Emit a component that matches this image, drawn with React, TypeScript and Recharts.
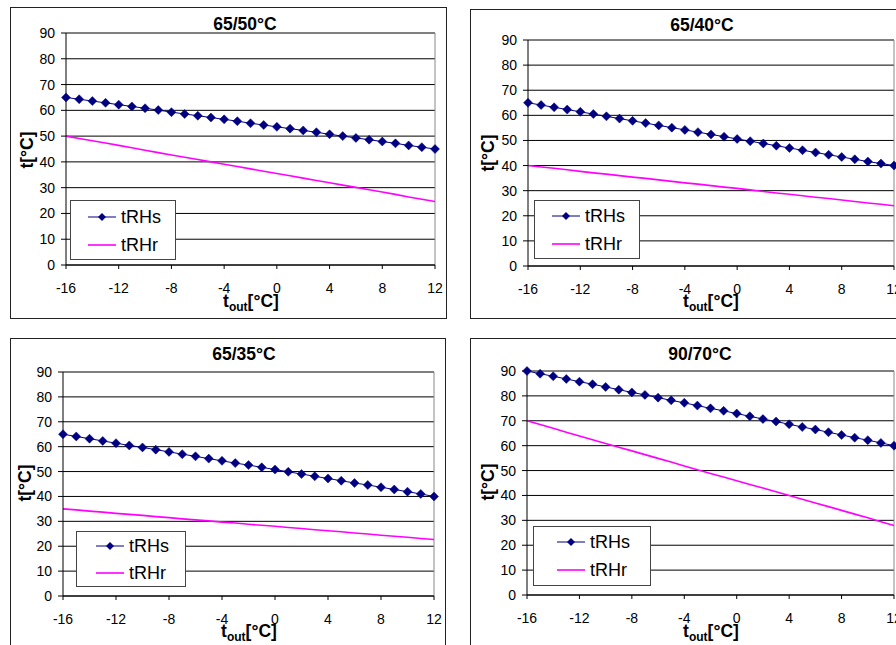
import React from 'react';
import { LineChart, Line, XAxis, YAxis, CartesianGrid, ReferenceLine } from 'recharts';

const tOut = [-16, -15, -14, -13, -12, -11, -10, -9, -8, -7, -6, -5, -4, -3, -2, -1, 0, 1, 2, 3, 4, 5, 6, 7, 8, 9, 10, 11, 12];
const xTicks = [-16, -12, -8, -4, 0, 4, 8, 12];
const yTicks = [0, 10, 20, 30, 40, 50, 60, 70, 80, 90];

const titles = ['65/50°C', '65/40°C', '65/35°C', '90/70°C'];

const tRHs6550 = [65.0, 64.3, 63.6, 62.9, 62.2, 61.5, 60.8, 60.1, 59.3, 58.6, 57.9, 57.2, 56.5, 55.8, 55.0, 54.3, 53.6, 52.9, 52.2, 51.5, 50.7, 50.0, 49.3, 48.6, 47.9, 47.2, 46.4, 45.7, 45.0];
const tRHr6550 = [50.0, 49.1, 48.2, 47.3, 46.4, 45.5, 44.5, 43.6, 42.7, 41.8, 40.9, 40.0, 39.1, 38.2, 37.3, 36.4, 35.5, 34.6, 33.7, 32.8, 31.9, 31.0, 30.1, 29.2, 28.3, 27.4, 26.4, 25.5, 24.6];

const tRHs6540 = [65.0, 64.1, 63.2, 62.3, 61.4, 60.5, 59.6, 58.7, 57.8, 56.9, 56.0, 55.1, 54.2, 53.3, 52.4, 51.5, 50.6, 49.7, 48.8, 47.9, 47.0, 46.1, 45.2, 44.3, 43.4, 42.5, 41.6, 40.8, 40.0];
const tRHr6540 = [40.0, 39.4, 38.9, 38.3, 37.7, 37.1, 36.6, 36.0, 35.4, 34.9, 34.3, 33.7, 33.1, 32.6, 32.0, 31.4, 30.9, 30.3, 29.7, 29.1, 28.6, 28.0, 27.4, 26.9, 26.3, 25.7, 25.1, 24.6, 24.0];

const tRHs6535 = [65.0, 64.1, 63.2, 62.3, 61.4, 60.5, 59.7, 58.8, 57.9, 57.0, 56.1, 55.2, 54.3, 53.4, 52.6, 51.7, 50.8, 49.9, 49.0, 48.1, 47.2, 46.3, 45.4, 44.6, 43.7, 42.8, 41.9, 41.0, 40.0];
const tRHr6535 = [35.0, 34.6, 34.1, 33.7, 33.2, 32.8, 32.4, 31.9, 31.5, 31.0, 30.6, 30.2, 29.7, 29.3, 28.8, 28.4, 28.0, 27.5, 27.1, 26.6, 26.2, 25.8, 25.3, 24.9, 24.4, 24.0, 23.6, 23.1, 22.7];

const tRHs9070 = [90.0, 88.9, 87.9, 86.8, 85.7, 84.7, 83.6, 82.5, 81.4, 80.4, 79.3, 78.2, 77.2, 76.1, 75.0, 74.0, 72.9, 71.8, 70.7, 69.7, 68.6, 67.5, 66.5, 65.4, 64.3, 63.2, 62.2, 61.1, 60.0];
const tRHr9070 = [70.0, 68.5, 67.0, 65.4, 63.9, 62.4, 60.9, 59.4, 57.9, 56.4, 54.9, 53.4, 51.8, 50.3, 48.8, 47.4, 45.9, 44.4, 43.0, 41.5, 40.0, 38.5, 37.0, 35.5, 34.0, 32.5, 31.0, 29.4, 27.9];

const FONT = '"Liberation Sans", Arial, sans-serif';
const NAVY = '#000080';
const MAGENTA = '#FF00FF';

type Box = { x: number; y: number; w: number; h: number };
type Plot = { l: number; t: number; r: number; b: number };
type Pt = { x: number; y: number };
type Leg = { x: number; y: number; w: number; h: number; iconX: number; textX: number; row1: number; row2: number };

const Diamond = (props: any) => {
  const { cx, cy, index } = props;
  if (cx == null || cy == null) return <g key={index} />;
  const s = 4.5;
  return (
    <path
      key={index}
      d={`M${cx},${cy - s}L${cx + s},${cy}L${cx},${cy + s}L${cx - s},${cy}Z`}
      fill={NAVY}
      stroke={NAVY}
      strokeWidth={0.5}
    />
  );
};

const Y_AXIS_W = 40;
const X_AXIS_H = 30;

function Panel(props: {
  title: string;
  s: number[];
  r: number[];
  box: Box;
  plot: Plot;
  titlePos: Pt;
  yLabelPos: Pt;
  xLabelPos: Pt;
  legend: Leg;
}) {
  const { title, s, r, box, plot, titlePos, yLabelPos, xLabelPos, legend } = props;
  const data = tOut.map((t, i) => ({ t, tRHs: s[i], tRHr: r[i] }));
  const margin = {
    top: plot.t - box.y,
    left: plot.l - box.x - Y_AXIS_W,
    right: box.x + box.w - plot.r,
    bottom: box.y + box.h - plot.b - X_AXIS_H,
  };
  return (
    <>
      <div
        style={{
          position: 'absolute',
          left: box.x,
          top: box.y,
          width: box.w,
          height: box.h,
          border: '1px solid #222',
          boxSizing: 'border-box',
        }}
      />
      <div style={{ position: 'absolute', left: box.x, top: box.y }}>
        <LineChart width={box.w} height={box.h} data={data} margin={margin}>
          <CartesianGrid vertical={false} stroke="#000" strokeWidth={1} />
          <XAxis
            dataKey="t"
            type="number"
            domain={[-16, 12]}
            ticks={xTicks}
            interval={0}
            height={X_AXIS_H}
            stroke="#000"
            tickSize={4}
            tickMargin={14}
            tick={{ fontSize: 14, fill: '#000', fontFamily: FONT }}
          />
          <YAxis
            type="number"
            domain={[0, 90]}
            ticks={yTicks}
            interval={0}
            width={Y_AXIS_W}
            stroke="#000"
            tickSize={5}
            tickMargin={6}
            tick={{ fontSize: 14, fill: '#000', fontFamily: FONT }}
          />
          <ReferenceLine x={12} stroke="#888" strokeWidth={1} />
          <Line
            dataKey="tRHr"
            stroke={MAGENTA}
            strokeWidth={1.6}
            dot={false}
            activeDot={false}
            isAnimationActive={false}
          />
          <Line
            dataKey="tRHs"
            stroke={NAVY}
            strokeWidth={1}
            dot={Diamond}
            activeDot={false}
            isAnimationActive={false}
          />
        </LineChart>
      </div>
      <div
        style={{
          position: 'absolute',
          left: titlePos.x,
          top: titlePos.y,
          transform: 'translate(-50%, -50%)',
          fontFamily: FONT,
          fontWeight: 'bold',
          fontSize: 17.5,
          whiteSpace: 'nowrap',
        }}
      >
        {title}
      </div>
      <div
        style={{
          position: 'absolute',
          left: yLabelPos.x,
          top: yLabelPos.y,
          transform: 'translate(-50%, -50%) rotate(-90deg)',
          fontFamily: FONT,
          fontWeight: 'bold',
          fontSize: 17.5,
          whiteSpace: 'nowrap',
        }}
      >
        t[°C]
      </div>
      <div
        style={{
          position: 'absolute',
          left: xLabelPos.x,
          top: xLabelPos.y,
          transform: 'translate(-50%, -50%)',
          fontFamily: FONT,
          fontWeight: 'bold',
          fontSize: 17.5,
          whiteSpace: 'nowrap',
          lineHeight: '18px',
        }}
      >
        t<span style={{ fontSize: 12, position: 'relative', top: 4 }}>out</span>[°C]
      </div>
      <div
        style={{
          position: 'absolute',
          left: legend.x,
          top: legend.y,
          width: legend.w,
          height: legend.h,
          border: '1px solid #444',
          boxSizing: 'border-box',
          background: '#fff',
          fontFamily: FONT,
          fontSize: 18,
        }}
      >
        <svg
          style={{ position: 'absolute', left: legend.iconX, top: legend.row1 - 6 }}
          width={28}
          height={12}
        >
          <line x1={0} y1={6} x2={28} y2={6} stroke={NAVY} strokeWidth={1} />
          <path d="M14,2L18,6L14,10L10,6Z" fill={NAVY} />
        </svg>
        <div style={{ position: 'absolute', left: legend.textX, top: legend.row1, transform: 'translateY(-50%)', lineHeight: '18px' }}>
          tRHs
        </div>
        <svg
          style={{ position: 'absolute', left: legend.iconX, top: legend.row2 - 6 }}
          width={28}
          height={12}
        >
          <line x1={0} y1={6} x2={28} y2={6} stroke={MAGENTA} strokeWidth={1.6} />
        </svg>
        <div style={{ position: 'absolute', left: legend.textX, top: legend.row2, transform: 'translateY(-50%)', lineHeight: '18px' }}>
          tRHr
        </div>
      </div>
    </>
  );
}

export default function App() {
  return (
    <div
      style={{
        position: 'absolute',
        left: 0,
        top: 0,
        width: 896,
        height: 645,
        overflow: 'hidden',
        background: '#fff',
      }}
    >
      <Panel
        title={titles[0]}
        s={tRHs6550}
        r={tRHr6550}
        box={{ x: 10, y: 7, w: 437, h: 312 }}
        plot={{ l: 66, t: 33, r: 435, b: 265 }}
        titlePos={{ x: 245, y: 24 }}
        yLabelPos={{ x: 27, y: 150 }}
        xLabelPos={{ x: 251, y: 302 }}
        legend={{ x: 70, y: 200, w: 106, h: 60, iconX: 17, textX: 50, row1: 16, row2: 44 }}
      />
      <Panel
        title={titles[1]}
        s={tRHs6540}
        r={tRHr6540}
        box={{ x: 470, y: 9, w: 437, h: 310 }}
        plot={{ l: 528, t: 40, r: 894, b: 266 }}
        titlePos={{ x: 702, y: 25 }}
        yLabelPos={{ x: 488, y: 153 }}
        xLabelPos={{ x: 711, y: 302 }}
        legend={{ x: 534, y: 200, w: 106, h: 59, iconX: 17, textX: 50, row1: 15, row2: 43 }}
      />
      <Panel
        title={titles[2]}
        s={tRHs6535}
        r={tRHr6535}
        box={{ x: 10, y: 338, w: 436, h: 312 }}
        plot={{ l: 63, t: 372, r: 434, b: 596 }}
        titlePos={{ x: 244, y: 354 }}
        yLabelPos={{ x: 25, y: 483 }}
        xLabelPos={{ x: 249, y: 632 }}
        legend={{ x: 76, y: 531, w: 110, h: 56, iconX: 19, textX: 52, row1: 14, row2: 41 }}
      />
      <Panel
        title={titles[3]}
        s={tRHs9070}
        r={tRHr9070}
        box={{ x: 470, y: 338, w: 437, h: 312 }}
        plot={{ l: 527, t: 371, r: 894, b: 595 }}
        titlePos={{ x: 700, y: 354 }}
        yLabelPos={{ x: 488, y: 482 }}
        xLabelPos={{ x: 711, y: 632 }}
        legend={{ x: 533, y: 526, w: 118, h: 60, iconX: 23, textX: 56, row1: 15, row2: 43 }}
      />
    </div>
  );
}
